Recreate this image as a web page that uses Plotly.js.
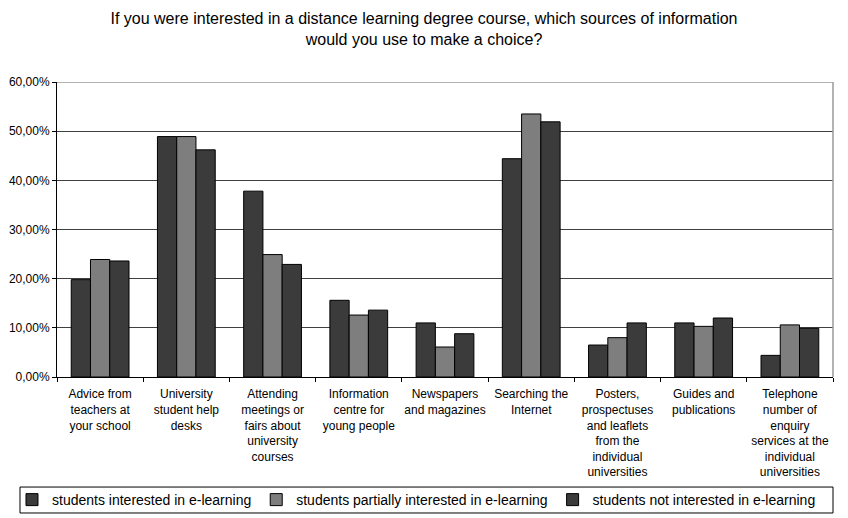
<!DOCTYPE html>
<html><head><meta charset="utf-8">
<script src="https://cdn.plot.ly/plotly-3.0.1.min.js"></script>
<style>html,body{margin:0;padding:0;background:#fff;}#chart{width:848px;height:518px;}</style>
</head><body><div id="chart"></div>
<script>
const categories = [
  "Advice from<br>teachers at<br>your school",
  "University<br>student help<br>desks",
  "Attending<br>meetings or<br>fairs about<br>university<br>courses",
  "Information<br>centre for<br>young people",
  "Newspapers<br>and magazines",
  "Searching the<br>Internet",
  "Posters,<br>prospectuses<br>and leaflets<br>from the<br>individual<br>universities",
  "Guides and<br>publications",
  "Telephone<br>number of<br>enquiry<br>services at the<br>individual<br>universities"
];
const seriesNames = [
  "students interested in e-learning",
  "students partially interested in e-learning",
  "students not interested in e-learning"
];
const interested = [19.8, 48.9, 37.8, 15.6, 11.0, 44.4, 6.5, 11.0, 4.4];
const partially  = [23.9, 48.9, 24.9, 12.6, 6.1, 53.5, 8.0, 10.3, 10.6];
const notInterested = [23.6, 46.2, 22.9, 13.6, 8.8, 51.9, 11.0, 12.0, 9.9];
const colors = ["#3b3b3b", "#7e7e7e", "#3b3b3b"];
const yTicks = [0, 10, 20, 30, 40, 50, 60];
const yTickText = ["0,00%", "10,00%", "20,00%", "30,00%", "40,00%", "50,00%", "60,00%"];

const data = [interested, partially, notInterested].map((vals, i) => ({
  type: "bar",
  name: seriesNames[i],
  x: categories,
  y: vals,
  marker: {color: colors[i], line: {color: "#000", width: 1}},
  hoverinfo: "none"
}));

const layout = {
  width: 848, height: 518,
  margin: {l: 57, r: 15, t: 82, b: 141, autoexpand: false},
  paper_bgcolor: "#fff", plot_bgcolor: "#fff",
  font: {family: "Liberation Sans, Arial, sans-serif", color: "#000", size: 12},
  title: {
    text: "If you were interested in a distance learning degree course, which sources of information<br>would you use to make a choice?",
    font: {size: 16, color: "#000"},
    x: 0.5, xanchor: "center", y: 0.954, yanchor: "top"
  },
  barmode: "group",
  bargap: 0.33,
  bargroupgap: 0,
  showlegend: true,
  legend: {
    orientation: "h",
    x: -0.058, xanchor: "left",
    y: -0.417, yanchor: "middle",
    borderwidth: 0,
    bgcolor: "rgba(0,0,0,0)",
    font: {size: 14, color: "#000"},
    traceorder: "normal"
  },
  xaxis: {
    type: "category",
    automargin: false,
    showline: true, linecolor: "#000", linewidth: 1,
    ticks: "outside", tickson: "boundaries", ticklen: 4, tickcolor: "#000",
    ticklabelstandoff: 6,
    tickangle: 0,
    tickfont: {size: 12},
    showgrid: false,
    fixedrange: true
  },
  yaxis: {
    range: [0, 60],
    automargin: false,
    tickmode: "array",
    tickvals: yTicks,
    ticktext: yTickText,
    showline: true, linecolor: "#000", linewidth: 1,
    ticks: "outside", ticklen: 4, tickcolor: "#000",
    showgrid: true, gridcolor: "#404040", gridwidth: 1.2,
    zeroline: false,
    tickfont: {size: 12},
    fixedrange: true
  },
  shapes: [
    {type: "line", xref: "paper", yref: "y", x0: 0, x1: 1, y0: 60, y1: 60, line: {color: "#9a9a9a", width: 1.5}, layer: "above"},
    {type: "line", xref: "paper", yref: "paper", x0: 1, x1: 1, y0: 0, y1: 1, line: {color: "#9a9a9a", width: 1.5}, layer: "above"},
    {type: "rect", xref: "paper", yref: "paper", x0: -0.0477, x1: 1.0, y0: -0.373, y1: -0.461, line: {color: "#000", width: 1}, fillcolor: "rgba(0,0,0,0)"}
  ]
};

Plotly.newPlot("chart", data, layout, {displayModeBar: false, staticPlot: true});
</script>
</body></html>
